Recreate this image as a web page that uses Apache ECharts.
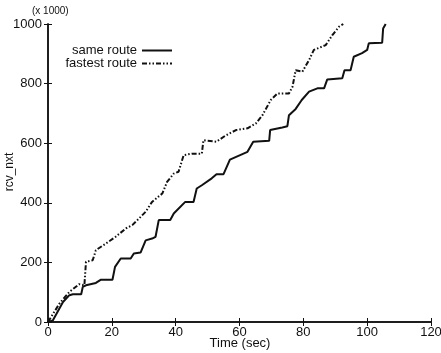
<!DOCTYPE html>
<html>
<head>
<meta charset="utf-8">
<script src="https://cdn.jsdelivr.net/npm/echarts@6/dist/echarts.min.js"></script>
<style>
  html, body { margin: 0; padding: 0; background: #fff; }
  #chart { width: 441px; height: 353px; }
</style>
</head>
<body>
<div id="chart"></div>
<script>
// 数据 (x: 秒, y: rcv_nxt / 1000)
var sameTime = [0, 1.5, 2.1, 4.7, 6.7, 7.8, 10.4, 10.9, 11.9, 15, 16.6, 20.2, 21, 22.8, 25.9, 26.9, 29, 30.6, 32.6, 33.7, 34.7, 38.3, 39.4, 43, 45.6, 46.6, 48.2, 51.3, 52.8, 55, 57, 62.5, 64.3, 69.3, 69.6, 73.4, 75, 75.5, 77.6, 79.5, 81.8, 84.4, 86.5, 87.5, 92.2, 92.9, 94.8, 95.8, 98.4, 100, 100.5, 104.7, 105, 105.8];
var sameValue = [0, 5, 17, 67, 90, 93, 93, 118, 123, 131, 142, 142, 185, 213, 213, 230, 233, 274, 280, 286, 342, 342, 364, 403, 403, 448, 459, 482, 496, 496, 545, 571, 605, 608, 644, 653, 657, 694, 715, 745, 773, 784, 784, 814, 818, 845, 845, 890, 902, 913, 935, 937, 985, 1000];
var fastTime = [0, 0.5, 3.6, 6.7, 9.8, 11.4, 11.9, 14, 15, 18.1, 21.2, 24.4, 26.4, 28.5, 30.6, 32.6, 35.8, 37.3, 39.4, 40.9, 42.5, 45.1, 48.2, 48.7, 52.8, 55.5, 58.9, 62.5, 65.1, 67.2, 69.8, 71.9, 75.5, 76.6, 77.6, 79.7, 81.8, 83.3, 87, 89.1, 91.2, 92.5];
var fastValue = [0, 6, 62, 101, 127, 123, 202, 207, 241, 263, 286, 314, 325, 347, 370, 403, 431, 470, 498, 504, 560, 565, 565, 610, 605, 625, 644, 650, 666, 694, 745, 767, 767, 789, 845, 840, 879, 913, 929, 963, 991, 1000];
var seriesNames = ['same route', 'fastest route'];

function pairs(xs, ys) {
  var out = [];
  for (var i = 0; i < xs.length; i++) out.push([xs[i], ys[i]]);
  return out;
}

var myChart = echarts.init(document.getElementById('chart'));
var font = 'Liberation Sans, Arial, sans-serif';
var ink = '#111';

var option = {
  animation: false,
  textStyle: { fontFamily: font, color: ink },
  grid: { left: 48, right: 10, top: 24, bottom: 31, containLabel: false, outerBoundsMode: 'none' },
  legend: {
    orient: 'vertical',
    left: 52,
    top: 44,
    align: 'right',
    itemWidth: 30,
    itemHeight: 8,
    itemGap: 0,
    padding: 0,
    data: seriesNames,
    itemStyle: { opacity: 0 },
    textStyle: { fontFamily: font, fontSize: 13, lineHeight: 13, color: ink, width: 85, align: 'right' }
  },
  graphic: [{
    type: 'text', left: 32, top: 6,
    style: { text: '(x 1000)', font: '10px ' + font, fill: ink }
  }, {
    type: 'text', x: 4, y: 172, rotation: Math.PI / 2,
    style: { text: 'rcv_nxt', font: '12px ' + font, fill: ink, align: 'center', verticalAlign: 'top' }
  }, {
    type: 'text', x: 240, y: 343,
    style: { text: 'Time (sec)', font: '13px ' + font, fill: ink, align: 'center', verticalAlign: 'middle' }
  }],
  xAxis: [{
    type: 'value', min: 0, max: 120, interval: 20,
    axisLine: { lineStyle: { color: ink, width: 1.5 } },
    axisTick: { inside: true, length: 4, lineStyle: { color: ink } },
    axisLabel: { fontSize: 13, color: ink, margin: 4 },
    splitLine: { show: false }
  }, {
    type: 'value', position: 'top', min: 0, max: 120, interval: 20,
    axisLine: { lineStyle: { color: ink, width: 1.5 } },
    axisTick: { inside: true, length: 4, lineStyle: { color: ink } },
    axisLabel: { show: false },
    splitLine: { show: false }
  }],
  yAxis: [{
    type: 'value', min: 0, max: 1000, interval: 200,
    axisLine: { show: true, lineStyle: { color: ink, width: 1.5 } },
    axisTick: { show: true, inside: true, length: 4, lineStyle: { color: ink } },
    axisLabel: { fontSize: 13, color: ink, margin: 6, formatter: function (v) { return String(v); } },
    splitLine: { show: false }
  }, {
    type: 'value', position: 'right', min: 0, max: 1000, interval: 200,
    axisLine: { show: true, lineStyle: { color: ink, width: 1.5 } },
    axisTick: { show: true, inside: true, length: 4, lineStyle: { color: ink } },
    axisLabel: { show: false },
    splitLine: { show: false }
  }],
  series: [{
    name: seriesNames[0],
    type: 'line',
    symbol: 'none',
    data: pairs(sameTime, sameValue),
    lineStyle: { color: ink, width: 2 },
    itemStyle: { color: ink }
  }, {
    name: seriesNames[1],
    type: 'line',
    symbol: 'none',
    data: pairs(fastTime, fastValue),
    lineStyle: { color: ink, width: 2, type: [5, 2, 1.5, 2, 1.5, 2] },
    itemStyle: { color: ink }
  }]
};

myChart.setOption(option);
</script>
</body>
</html>
